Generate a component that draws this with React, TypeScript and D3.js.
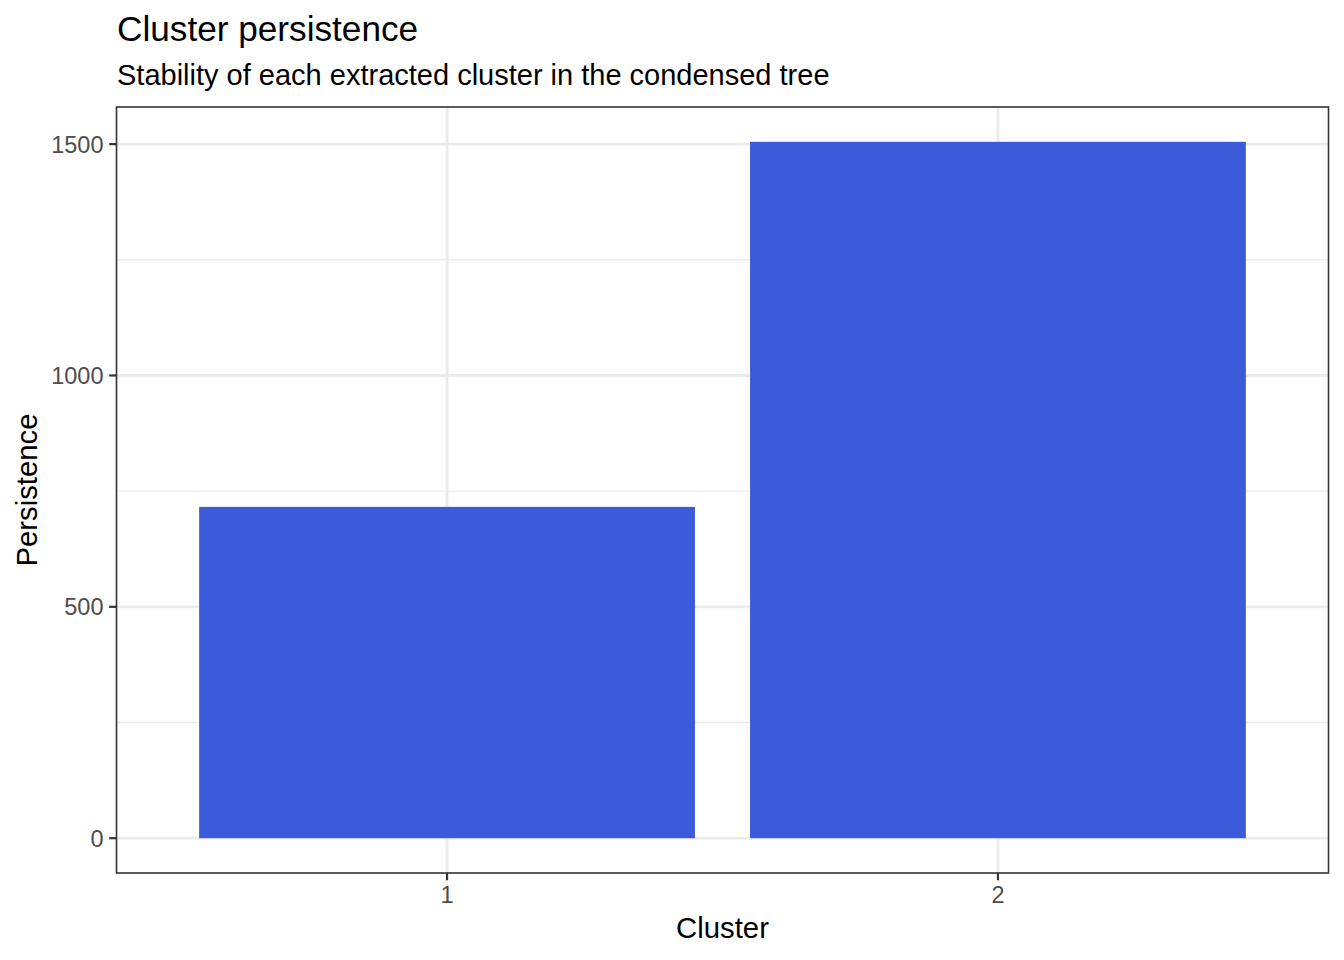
import * as d3 from "d3";

const clusters = ["1", "2"];
const persistence = [716, 1505];
const yTicks = [0, 500, 1000, 1500];
const yMinorTicks = [250, 750, 1250];

const W = 1344;
const H = 960;
const FONT = "'Liberation Sans', Arial, Helvetica, sans-serif";
const BAR = "#3B5BDB";

const App = () => {
  const left = 116.5;
  const right = 1328.5;
  const top = 107;
  const bottom = 873;

  // ggplot style expansion: discrete 0.6 units each side, bar width 0.9
  const x = d3
    .scaleBand<string>()
    .domain(clusters)
    .range([left, right])
    .paddingInner(0.1)
    .paddingOuter(0.15);
  const cx = (c: string) => (x(c) as number) + x.bandwidth() / 2;

  // continuous 5% expansion
  const yMax = d3.max(persistence) as number;
  const pad = yMax * 0.05;
  const y = d3.scaleLinear().domain([-pad, yMax + pad]).range([bottom, top]);

  return (
    <svg
      width={W}
      height={H}
      style={{ position: "absolute", left: 0, top: 0, background: "#fff" }}
      fontFamily={FONT}
    >
      <rect x={0} y={0} width={W} height={H} fill="#fff" />
      {/* minor grid */}
      {yMinorTicks.map((t) => (
        <line key={"m" + t} x1={left} x2={right} y1={y(t)} y2={y(t)} stroke="#EBEBEB" strokeWidth={1.4} />
      ))}
      {/* major grid */}
      {yTicks.map((t) => (
        <line key={"g" + t} x1={left} x2={right} y1={y(t)} y2={y(t)} stroke="#EBEBEB" strokeWidth={2.8} />
      ))}
      {clusters.map((c) => (
        <line key={"gx" + c} x1={cx(c)} x2={cx(c)} y1={top} y2={bottom} stroke="#EBEBEB" strokeWidth={2.8} />
      ))}
      {/* bars */}
      {clusters.map((c, i) => (
        <rect
          key={"b" + c}
          x={x(c)}
          width={x.bandwidth()}
          y={y(persistence[i])}
          height={y(0) - y(persistence[i])}
          fill={BAR}
        />
      ))}
      {/* panel border */}
      <rect x={left} y={top} width={right - left} height={bottom - top} fill="none" stroke="#333333" strokeWidth={1.6} />
      {/* y axis ticks */}
      {yTicks.map((t) => (
        <g key={"yt" + t}>
          <line x1={left - 7.3} x2={left} y1={y(t)} y2={y(t)} stroke="#333333" strokeWidth={2.2} />
          <text x={left - 13} y={y(t) + 8.4} textAnchor="end" fontSize={23.5} fill="#4D4D4D">
            {t}
          </text>
        </g>
      ))}
      {/* x axis ticks */}
      {clusters.map((c) => (
        <g key={"xt" + c}>
          <line x1={cx(c)} x2={cx(c)} y1={bottom} y2={bottom + 7.3} stroke="#333333" strokeWidth={2.2} />
          <text x={cx(c)} y={bottom + 30} textAnchor="middle" fontSize={23.5} fill="#4D4D4D">
            {c}
          </text>
        </g>
      ))}
      {/* axis titles */}
      <text x={(left + right) / 2} y={938} textAnchor="middle" fontSize={29.3} fill="#000">
        Cluster
      </text>
      <text
        transform={`translate(37, ${(top + bottom) / 2}) rotate(-90)`}
        textAnchor="middle"
        fontSize={29.3}
        fill="#000"
      >
        Persistence
      </text>
      {/* titles */}
      <text x={117} y={41} fontSize={35.2} fill="#000">
        Cluster persistence
      </text>
      <text x={117} y={85} fontSize={29} fill="#000">
        Stability of each extracted cluster in the condensed tree
      </text>
    </svg>
  );
};

export default App;
